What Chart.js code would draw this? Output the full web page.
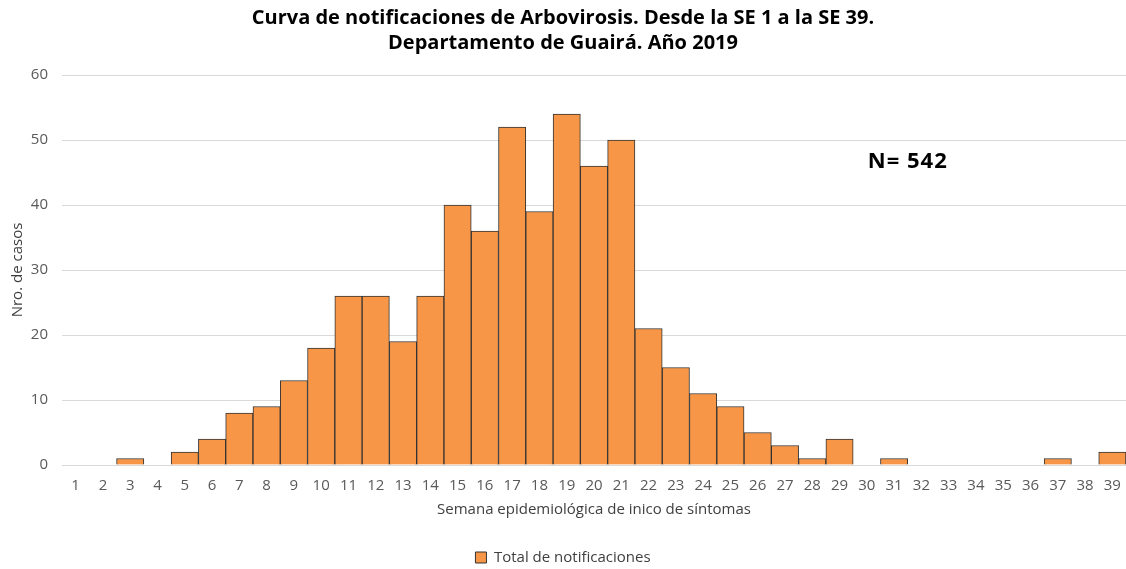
<!DOCTYPE html>
<html>
<head>
<meta charset="utf-8">
<script src="https://cdn.jsdelivr.net/npm/chart.js@4.4.0/dist/chart.umd.min.js"></script>
<style>
html,body{margin:0;padding:0;background:#fff;}
#wrap{width:1126px;height:569px;position:relative;}
</style>
</head>
<body>
<div id="wrap"><canvas id="c" width="1126" height="569"></canvas></div>
<script>
const weeks = ["1","2","3","4","5","6","7","8","9","10","11","12","13","14","15","16","17","18","19","20","21","22","23","24","25","26","27","28","29","30","31","32","33","34","35","36","37","38","39"];
const notificaciones = [0,0,1,0,2,4,8,9,13,18,26,26,19,26,40,36,52,39,54,46,50,21,15,11,9,5,3,1,4,0,1,0,0,0,0,0,1,0,2];
const yTicks = [0,10,20,30,40,50,60];
const titleLines = ["Curva de notificaciones de Arbovirosis. Desde la SE 1 a la SE 39.", "Departamento de Guairá. Año 2019"];
const seriesName = "Total de notificaciones";
const xTitle = "Semana epidemiológica de inico de síntomas";
const yTitle = "Nro. de casos";
const totalLabel = "N= 542";

const FONT = "'Open Sans', 'Noto Sans', sans-serif";

const annotation = {
  id: 'nLabel',
  afterDatasetsDraw(chart) {
    const {ctx, scales} = chart;
    const x = scales.x.getPixelForValue(29) + 1;
    const y = scales.y.getPixelForValue(46.6);
    ctx.save();
    ctx.font = "bold 22px " + FONT;
    ctx.fillStyle = "#000";
    ctx.textAlign = "left";
    ctx.textBaseline = "middle";
    if ('letterSpacing' in ctx) ctx.letterSpacing = '1px';
    ctx.fillText(totalLabel, x, y);
    ctx.restore();
  }
};

new Chart(document.getElementById('c'), {
  type: 'bar',
  data: {
    labels: weeks,
    datasets: [{
      label: seriesName,
      data: notificaciones,
      backgroundColor: '#F79646',
      borderColor: '#333333',
      borderWidth: 1,
      barPercentage: 1.0,
      categoryPercentage: 1.0
    }]
  },
  options: {
    responsive: false,
    animation: false,
    layout: {padding: {left: 0, right: 0, top: 6, bottom: -6}},
    plugins: {
      title: {
        display: true,
        text: titleLines,
        color: '#000',
        font: {family: FONT, size: 20, weight: 'bold', lineHeight: 1.25},
        padding: {top: 0, bottom: 19}
      },
      legend: {
        display: true,
        position: 'bottom',
        labels: {
          color: '#404040',
          font: {family: FONT, size: 15},
          boxWidth: 11, boxHeight: 11,
          padding: 6
        }
      },
      tooltip: {enabled: false}
    },
    scales: {
      x: {
        grid: {display: false},
        border: {display: false},
        ticks: {color: '#595959', font: {family: FONT, size: 15}, maxRotation: 0, autoSkip: false, padding: 4},
        title: {display: true, text: xTitle, color: '#404040', font: {family: FONT, size: 15}, padding: {top: 0, bottom: 25}},
        afterFit(scale) { scale.height = 79; scale.paddingRight = 0; scale.paddingLeft = 0; }
      },
      y: {
        min: 0, max: 60,
        afterBuildTicks(scale) { scale.ticks = yTicks.map(v => ({value: v})); },
        grid: {color: '#D9D9D9', drawTicks: false, lineWidth: 1},
        border: {display: false},
        ticks: {color: '#595959', font: {family: FONT, size: 15}, padding: 14},
        title: {display: true, text: yTitle, color: '#404040', font: {family: FONT, size: 15}, padding: {top: 9, bottom: 0}},
        afterFit(scale) { scale.width = 62; }
      }
    }
  },
  plugins: [annotation]
});
</script>
</body>
</html>
